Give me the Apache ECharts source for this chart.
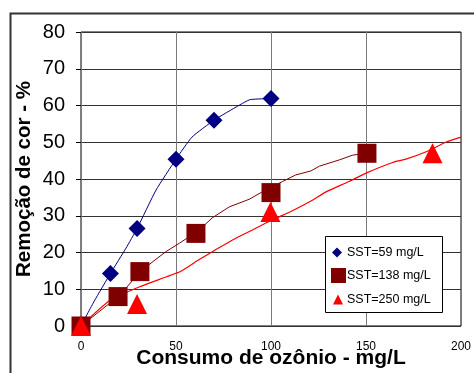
<!DOCTYPE html>
<html>
<head>
<meta charset="utf-8">
<script src="https://cdn.jsdelivr.net/npm/echarts@6/dist/echarts.min.js"></script>
<style>
  html, body { margin: 0; padding: 0; background: #fff; }
  #chart { width: 474px; height: 373px; }
</style>
</head>
<body>
<div id="chart"></div>
<script>
// measured points (ozone consumption mg/L, colour removal %)
const sst59 = [[0, 0], [15.5, 14.3], [29.5, 26.5], [50, 45.4], [70, 56], [100, 61.9]]
const sst138 = [[0, 0], [19.5, 8], [31, 14.8], [60.5, 25.2], [100, 36.3], [150.5, 47]]
const sst250 = [[0, 0], [29.5, 6], [99.7, 31], [185, 47]]

// trend lines
const trend59 = [[0, 0], [7, 6.8], [15.5, 14.3], [23.7, 21.2], [29.5, 26.5], [39.5, 37], [50, 45.4],
  [58.4, 51.4], [70, 56], [83, 60], [89, 61.6], [100, 61.9]]
const trend138 = [[0, 0], [19.5, 8], [23.7, 10.3], [31, 14.8], [44.6, 20.2], [52, 22.6], [62, 26],
  [69, 29.4], [78, 32.4], [88.6, 34.5], [95.4, 36.5], [106, 39.3], [113, 41.1], [121, 42.2],
  [125.5, 43.5], [136, 45.2], [143, 46.5], [150.5, 47]]
const trend250 = [[0, 0], [15, 6.9], [30.5, 10.6], [45, 13.4], [52.6, 14.9], [62, 18], [71, 20.8],
  [81.5, 23.9], [92, 26.6], [100.8, 28.9], [111, 31.3], [122, 34.3], [129, 36.5], [141, 39.3],
  [150, 41.6], [164, 44.5], [171, 45.4], [182, 47.5], [192, 50], [200, 51.4]]

const names = ['SST=59 mg/L', 'SST=138 mg/L', 'SST=250 mg/L']
const colors = ['#000080', '#800000', '#FF0000']
const xTicks = { min: 0, max: 200, interval: 50 }
const yTicks = { min: 0, max: 80, interval: 10 }

const font = 'Liberation Sans, Arial, sans-serif'
let chart = echarts.init(document.getElementById('chart'))

let legendItem = (name, icon, size, left, top, pad) => ({
  data: [name],
  icon: icon,
  itemWidth: size,
  itemHeight: size,
  left: left,
  top: top,
  padding: 0,
  selectedMode: false,
  textStyle: { fontFamily: font, fontSize: 12.5, color: '#000', padding: [0, 0, 0, pad] }
})

let option = {
  animation: false,
  backgroundColor: '#fff',
  textStyle: { fontFamily: font },
  grid: {
    left: 81, right: 13, top: 32, bottom: 47,
    outerBoundsMode: 'none',
    containLabel: false,
    show: true, borderColor: '#000', borderWidth: 1, backgroundColor: 'transparent'
  },
  graphic: [
    { type: 'rect', left: 8, top: 11, z: 0, silent: true,
      shape: { width: 480, height: 400 }, style: { fill: 'none', stroke: '#333', lineWidth: 2 } },
    { type: 'rect', left: 325, top: 236, z: 3, silent: true,
      shape: { width: 117, height: 76 }, style: { fill: '#fff', stroke: '#000', lineWidth: 1 } }
  ],
  legend: [
    legendItem(names[0], 'diamond', 10, 332, 246, 0),
    legendItem(names[1], 'rect', 15, 331, 268, -4),
    legendItem(names[2], 'triangle', 10, 333, 293, -1)
  ],
  xAxis: {
    type: 'value',
    min: xTicks.min, max: xTicks.max, interval: xTicks.interval,
    name: 'Consumo de ozônio - mg/L',
    nameLocation: 'middle',
    nameGap: 22,
    nameMoveOverlap: false,
    nameTextStyle: { fontFamily: font, fontSize: 21, fontWeight: 'bold', color: '#000' },
    axisLine: { show: false },
    axisTick: { show: false },
    axisLabel: { fontFamily: font, fontSize: 12, color: '#000', margin: 15 },
    splitLine: { show: true, lineStyle: { color: '#7a7a7a', width: 1 } }
  },
  yAxis: {
    type: 'value',
    min: yTicks.min, max: yTicks.max, interval: yTicks.interval,
    name: 'Remoção de cor - %',
    nameLocation: 'middle',
    nameGap: 46,
    nameMoveOverlap: false,
    nameTextStyle: { fontFamily: font, fontSize: 20.5, fontWeight: 'bold', color: '#000' },
    axisLine: { show: false },
    axisTick: { show: true, length: 5, lineStyle: { color: '#000' } },
    axisLabel: { fontFamily: font, fontSize: 20, color: '#000', margin: 16 },
    splitLine: { show: true, lineStyle: { color: '#333', width: 1 } }
  },
  series: [
    { name: 'trend59', type: 'line', data: trend59, smooth: 0.15, showSymbol: false, symbol: 'none',
      lineStyle: { color: colors[0], width: 1 }, z: 2 },
    { name: 'trend138', type: 'line', data: trend138, showSymbol: false, symbol: 'none',
      lineStyle: { color: colors[1], width: 1 }, z: 2 },
    { name: 'trend250', type: 'line', data: trend250, smooth: 0.2, showSymbol: false, symbol: 'none',
      lineStyle: { color: colors[2], width: 1.2 }, z: 2 },
    { name: names[0], type: 'scatter', data: sst59, symbol: 'diamond', symbolSize: 17,
      itemStyle: { color: colors[0], opacity: 1 }, z: 3 },
    { name: names[1], type: 'scatter', data: sst138, symbol: 'rect', symbolSize: 19,
      itemStyle: { color: colors[1], opacity: 1 }, z: 4 },
    { name: names[2], type: 'scatter', data: sst250, symbol: 'triangle', symbolSize: 20,
      itemStyle: { color: colors[2], opacity: 1 }, z: 5 }
  ]
}

chart.setOption(option)
</script>
</body>
</html>
